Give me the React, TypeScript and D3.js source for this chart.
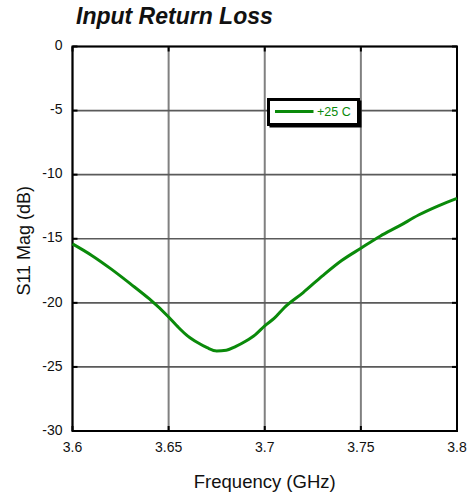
import React from "react";
import * as d3 from "d3";

const freqs = [3.6, 3.61, 3.62, 3.63, 3.64, 3.65, 3.655, 3.66, 3.665, 3.67, 3.675, 3.68, 3.685, 3.69, 3.695, 3.7, 3.705, 3.71, 3.72, 3.73, 3.74, 3.75, 3.76, 3.77, 3.78, 3.79, 3.8];
const s11 = [-15.4, -16.3, -17.35, -18.5, -19.7, -21.1, -21.9, -22.6, -23.1, -23.5, -23.75, -23.7, -23.4, -23.0, -22.5, -21.8, -21.2, -20.4, -19.2, -17.9, -16.7, -15.74, -14.8, -14.0, -13.15, -12.45, -11.85];
const xTicks = [3.6, 3.65, 3.7, 3.75, 3.8];
const xTickLabels = ["3.6", "3.65", "3.7", "3.75", "3.8"];
const yTicks = [0, -5, -10, -15, -20, -25, -30];
const yTickLabels = ["0", "-5", "-10", "-15", "-20", "-25", "-30"];
const seriesName = "+25 C";

const W = 471, H = 495;
const L = 72.5, R = 457, T = 46.5, B = 431;
const FONT = "Liberation Sans, Arial, sans-serif";
const GREEN = "#0a8a0a";

export default function App() {
  const x = d3.scaleLinear().domain([3.6, 3.8]).range([L, R]);
  const y = d3.scaleLinear().domain([-30, 0]).range([B, T]);
  const line = d3
    .line<number>()
    .x((_, i) => x(freqs[i]))
    .y((d) => y(d))
    .curve(d3.curveMonotoneX);
  const tl = 5;
  return (
    <svg width={W} height={H} style={{ position: "absolute", left: 0, top: 0 }} fontFamily={FONT}>
      <rect x={0} y={0} width={W} height={H} fill="#fff" />
      <text x={76} y={24} fontSize={23} fontWeight="bold" fontStyle="italic" fill="#111">
        Input Return Loss
      </text>
      {xTicks.map((t, i) => (
        <g key={"gx" + i}>
          <line x1={x(t)} x2={x(t)} y1={T} y2={B} stroke="#808080" strokeWidth={2} />
          <line x1={x(t)} x2={x(t)} y1={T} y2={T + tl} stroke="#000" strokeWidth={2} />
          <line x1={x(t)} x2={x(t)} y1={B} y2={B - tl} stroke="#000" strokeWidth={2} />
          <text x={x(t)} y={451.5} fontSize={14} textAnchor="middle" fill="#111">
            {xTickLabels[i]}
          </text>
        </g>
      ))}
      {yTicks.map((t, i) => (
        <g key={"gy" + i}>
          <line x1={L} x2={R} y1={y(t)} y2={y(t)} stroke="#5a5a5a" strokeWidth={1.6} />
          <line x1={L} x2={L + tl} y1={y(t)} y2={y(t)} stroke="#000" strokeWidth={2} />
          <line x1={R} x2={R - tl} y1={y(t)} y2={y(t)} stroke="#000" strokeWidth={2} />
          <text x={62.5} y={y(t)} fontSize={14} textAnchor="end" dominantBaseline="middle" fill="#111">
            {yTickLabels[i]}
          </text>
        </g>
      ))}
      <rect x={L} y={T} width={R - L} height={B - T} fill="none" stroke="#000" strokeWidth={2} />
      <path d={line(s11) || ""} fill="none" stroke={GREEN} strokeWidth={3} />
      <g>
        <rect x={269.5} y={100.5} width={92} height={27} fill="#000" />
        <rect x={268.5} y={99.5} width={90} height={25} fill="#fff" stroke="#000" strokeWidth={3} />
        <line x1={275} x2={313.5} y1={111.5} y2={111.5} stroke={GREEN} strokeWidth={3} />
        <text x={317} y={116} fontSize={12.5} fill={GREEN}>
          {seriesName}
        </text>
      </g>
      <text x={(L + R) / 2} y={488} fontSize={18.5} textAnchor="middle" fill="#111">
        Frequency (GHz)
      </text>
      <text
        transform={`translate(30, ${(T + B) / 2 + 2}) rotate(-90)`}
        fontSize={18}
        textAnchor="middle"
        fill="#111"
      >
        S11 Mag (dB)
      </text>
    </svg>
  );
}
